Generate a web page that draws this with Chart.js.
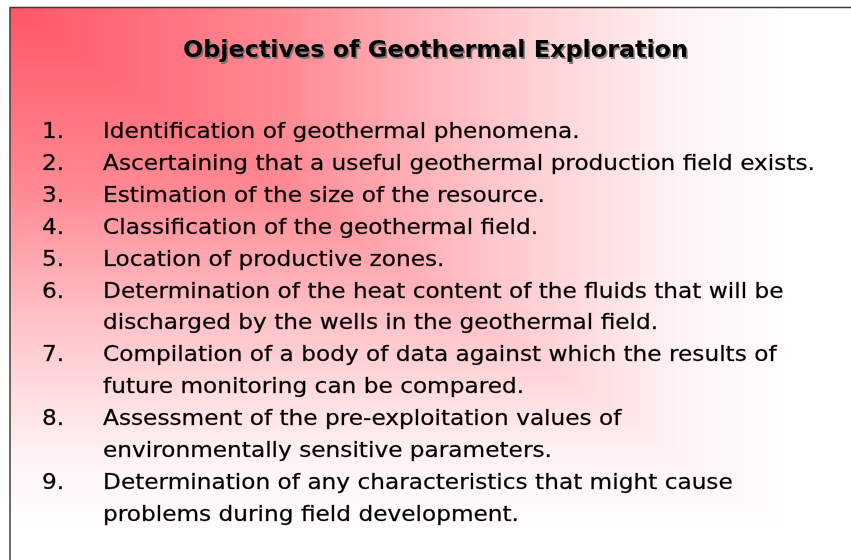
<!DOCTYPE html>
<html lang="en">
<head>
  <meta charset="UTF-8">
  <title>Objectives of Geothermal Exploration</title>
  <script src="https://cdn.jsdelivr.net/npm/chart.js"></script>
  <style>
    html, body {
      margin: 0;
      padding: 0;
      background: #ffffff;
      overflow: hidden;
    }
    #slide {
      display: block;
    }
  </style>
</head>
<body>
  <canvas id="slide" width="851" height="560"></canvas>

  <script>
    // slide content
    const slideTitle = 'Objectives of Geothermal Exploration';
    const itemNumbers = ['1.', '2.', '3.', '4.', '5.', '6.', '7.', '8.', '9.'];
    const itemLines = [
      ['Identification of geothermal phenomena.'],
      ['Ascertaining that a useful geothermal production field exists.'],
      ['Estimation of the size of the resource.'],
      ['Classification of the geothermal field.'],
      ['Location of productive zones.'],
      ['Determination of the heat content of the fluids that will be',
       'discharged by the wells in the geothermal field.'],
      ['Compilation of a body of data against which the results of',
       'future monitoring can be compared.'],
      ['Assessment of the pre-exploitation values of',
       'environmentally sensitive parameters.'],
      ['Determination of any characteristics that might cause',
       'problems during field development.']
    ];

    const textFont = '"DejaVu Sans", Tahoma, Verdana, sans-serif';

    // draw text squeezed horizontally so it fits the width seen in the slide
    function drawFitted(ctx, text, x, y, scaleX, stroke) {
      ctx.save();
      ctx.translate(x, y);
      ctx.scale(scaleX, 1);
      ctx.fillText(text, 0, 0);
      if (stroke) ctx.strokeText(text, 0, 0);
      ctx.restore();
    }

    // "from corner" shading: vertical fade everywhere, then the
    // upper-right triangle overpainted with the horizontal fade
    function cornerShade(ctx, x0, y0, W, H, c0) {
      const stops = g => {
        g.addColorStop(0, c0);
        g.addColorStop(0.35, '#ff8a94');
        g.addColorStop(0.6, '#ffc4c9');
        g.addColorStop(0.85, '#fff3f4');
        g.addColorStop(1, '#ffffff');
        return g;
      };
      ctx.fillStyle = stops(ctx.createLinearGradient(0, y0, 0, y0 + H));
      ctx.fillRect(x0, y0, 3 * W, 3 * H);
      ctx.beginPath();
      ctx.moveTo(x0, y0);
      ctx.lineTo(x0 + 3 * W, y0 + 3 * H);
      ctx.lineTo(x0 + 3 * W, y0);
      ctx.closePath();
      ctx.fillStyle = stops(ctx.createLinearGradient(x0, 0, x0 + W, 0));
      ctx.fill();
    }

    const slidePlugin = {
      id: 'slidePlugin',
      beforeDraw(chart) {
        const ctx = chart.ctx;
        const w = chart.width, h = chart.height;
        ctx.save();
        ctx.fillStyle = '#ffffff';
        ctx.fillRect(0, 0, w, h);

        ctx.save();
        ctx.beginPath();
        ctx.rect(10, 7, w, h);
        ctx.clip();
        cornerShade(ctx, 10, 7, 790, 530, '#ff5566');
        ctx.restore();

        // frame
        ctx.strokeStyle = '#3c3c3c';
        ctx.lineWidth = 1.5;
        ctx.beginPath();
        ctx.moveTo(10, h + 2);
        ctx.lineTo(10, 7.5);
        ctx.lineTo(w + 2, 7.5);
        ctx.stroke();
        ctx.restore();
      },
      afterDraw(chart) {
        const ctx = chart.ctx;
        ctx.save();
        ctx.textBaseline = 'alphabetic';
        ctx.textAlign = 'left';

        // title with a grey shadow
        ctx.font = 'bold 23px ' + textFont;
        const tw = ctx.measureText(slideTitle).width;
        const ts = 505 / tw;
        const tx = 435.5 - 505 / 2;
        ctx.fillStyle = 'rgba(110,110,110,0.85)';
        drawFitted(ctx, slideTitle, tx + 1.5, 58.5, ts);
        ctx.fillStyle = '#000000';
        drawFitted(ctx, slideTitle, tx, 57, ts);

        // numbered list
        ctx.font = '22px ' + textFont;
        const ls = 712 / ctx.measureText(itemLines[1][0]).width;
        const lineGap = 31.9;
        let row = 0;
        ctx.fillStyle = '#000000';
        ctx.strokeStyle = 'rgba(0,0,0,0.55)';
        ctx.lineWidth = 0.45;
        itemNumbers.forEach((num, i) => {
          drawFitted(ctx, num, 42, 138 + row * lineGap, ls, true);
          itemLines[i].forEach((line, j) => {
            drawFitted(ctx, line, 103, 138 + (row + j) * lineGap, ls, true);
          });
          row += itemLines[i].length;
        });
        ctx.restore();
      }
    };

    const ctx = document.getElementById('slide').getContext('2d');
    const chart = new Chart(ctx, {
      type: 'bar',
      data: {
        labels: itemNumbers,
        datasets: [{ data: itemLines.map(l => l.length), backgroundColor: 'rgba(0,0,0,0)' }]
      },
      options: {
        responsive: false,
        animation: false,
        devicePixelRatio: 1,
        events: [],
        plugins: {
          legend: { display: false },
          title: { display: false },
          tooltip: { enabled: false }
        },
        scales: {
          x: { display: false },
          y: { display: false }
        }
      },
      plugins: [slidePlugin]
    });
  </script>
</body>
</html>
